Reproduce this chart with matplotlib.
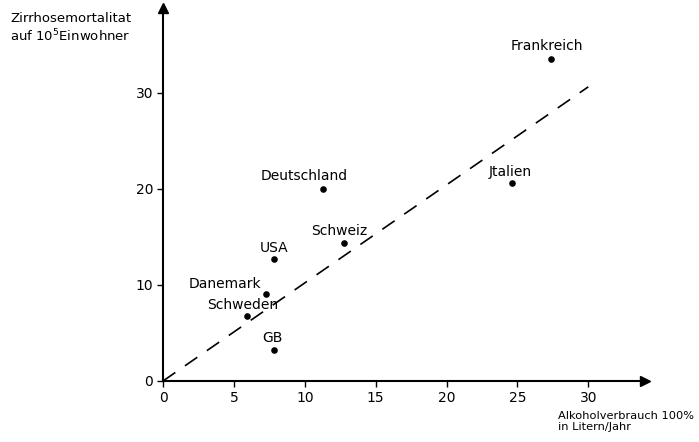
import matplotlib
matplotlib.use('Agg')
import matplotlib.pyplot as plt

# Länder und Werte
laender = ['Frankreich', 'Jtalien', 'Deutschland', 'Schweiz', 'USA', 'Danemark', 'Schweden', 'GB']
alkohol = [27.4, 24.6, 11.3, 12.8, 7.8, 7.3, 5.9, 7.8]
mortalitaet = [33.5, 20.6, 20.0, 14.4, 12.7, 9.1, 6.8, 3.2]
# Beschriftungsversatz (Punkte)
label_dx = [-3, -1, -14, -4, 0, -30, -3, -1]
label_dy = [9, 8, 9, 8, 8, 7, 8, 9]

trend_x = [0, 30]
trend_y = [0, 30.6]

xticks = [0, 5, 10, 15, 20, 25, 30]
yticks = [0, 10, 20, 30]

plt.rcParams['font.family'] = ['DejaVu Sans']

fig = plt.figure(figsize=(6.99, 4.42), dpi=100)
ax = fig.add_axes([163 / 699, 1 - 381 / 442, (645 - 163) / 699, (381 - 8) / 442])
ax.set_xlim(0, 34)
ax.set_ylim(0, 38.8)

for s in ['top', 'right']:
    ax.spines[s].set_visible(False)
for s in ['left', 'bottom']:
    ax.spines[s].set_linewidth(1.5)

# Pfeilspitzen
ax.plot(1, 0, '>k', markersize=7, transform=ax.transAxes, clip_on=False)
ax.plot(0, 1, '^k', markersize=7, transform=ax.transAxes, clip_on=False)

ax.set_xticks(xticks)
ax.set_yticks(yticks)
ax.tick_params(direction='out', length=4, width=1, labelsize=10, pad=3)

# gestrichelte Regressionsgerade
ax.plot(trend_x, trend_y, color='black', lw=1.2, dashes=(9, 7))

ax.scatter(alkohol, mortalitaet, s=14, color='black', zorder=3)
for name, x, y, dx, dy in zip(laender, alkohol, mortalitaet, label_dx, label_dy):
    ax.annotate(name, (x, y), xytext=(dx, dy), textcoords='offset points',
                ha='center', va='center', fontsize=10)

fig.text(10 / 699, 1 - 12 / 442, 'Zirrhosemortalitat\nauf 10$^5$Einwohner',
         ha='left', va='top', fontsize=9.5, linespacing=1.2)
fig.text(694 / 699, 1 - 411 / 442, 'Alkoholverbrauch 100%\nin Litern/Jahr',
         ha='right', va='top', fontsize=8.2, linespacing=1.15, multialignment='left')

fig.savefig('out.png', dpi=100)
